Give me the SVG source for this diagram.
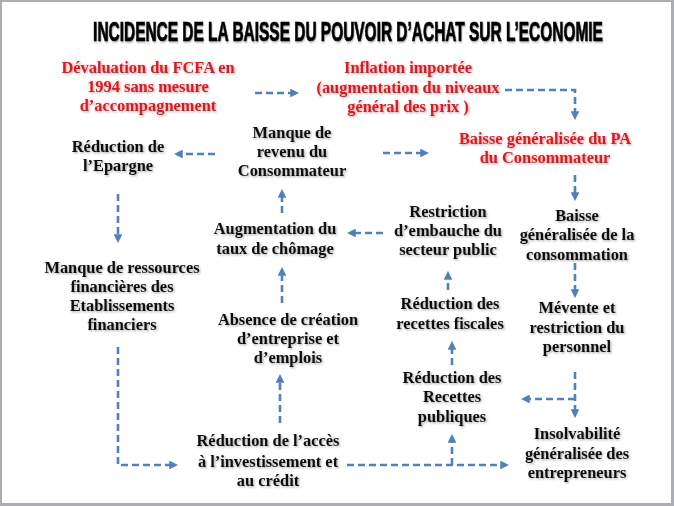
<svg xmlns="http://www.w3.org/2000/svg" width="674" height="506" viewBox="0 0 674 506">
<defs>
<filter id="sh" x="-10%" y="-30%" width="120%" height="160%">
<feDropShadow dx="1.2" dy="1.2" stdDeviation="0.9" flood-color="#000" flood-opacity="0.35"/>
</filter>
<marker id="ah" viewBox="0 0 10 10" refX="2" refY="5" markerWidth="3.4" markerHeight="3.4" orient="auto" markerUnits="strokeWidth">
<path d="M0 0 L10 5 L0 10 Z" fill="#4f81bd"/>
</marker>
<style>
.t{font-family:"Liberation Serif","Times New Roman",serif;font-weight:bold;font-size:16.4px;text-anchor:middle;fill:#111;filter:url(#sh)}
.r{fill:#e3161d}
.c{fill:none;stroke:#4f81bd;stroke-width:2.6;stroke-dasharray:7 4}
.a{marker-end:url(#ah)}
</style>
</defs>
<rect x="0" y="0" width="674" height="506" fill="#abacb4"/>
<rect x="2" y="2" width="669" height="501" fill="#fff"/>
<g id="title" transform="translate(348 41) scale(0.55 1)"><text x="0" y="0" font-family="Liberation Sans,Arial,sans-serif" font-weight="bold" font-size="27" textLength="927" lengthAdjust="spacingAndGlyphs" text-anchor="middle" fill="#000" stroke="#000" stroke-width="0.7" filter="url(#sh)">INCIDENCE  DE LA BAISSE DU POUVOIR D’ACHAT SUR L’ECONOMIE</text></g>

<g id="connectors">
<path class="c a" d="M255 93 H292"/>
<path class="c a" d="M505 90 H575 V113"/>
<path class="c a" d="M383 153 H422"/>
<path class="c a" d="M215 154 H181"/>
<path class="c a" d="M575 175 V194"/>
<path class="c a" d="M118 194 V236"/>
<path class="c a" d="M282 213 V196"/>
<path class="c a" d="M282 303 V274"/>
<path class="c a" d="M280 423 V381"/>
<path class="c a" d="M118 347 V465 H171"/>
<path class="c a" d="M347 465 H502"/>
<path class="c a" d="M452 465 V441"/>
<path class="c a" d="M383 233 H354"/>
<path class="c a" d="M448 290 V278"/>
<path class="c a" d="M452 365 V348"/>
<path class="c a" d="M575 263 V291"/>
<path class="c a" d="M575 372 V411"/>
<path class="c a" d="M575 399 H528"/>
</g>

<g id="n-devaluation"><text class="t r" x="148"><tspan x="148" y="73">Dévaluation du FCFA  en</tspan><tspan x="148" y="92">1994 sans mesure</tspan><tspan x="148" y="111">d’accompagnement</tspan></text></g>
<g id="n-inflation"><text class="t r" x="408"><tspan x="408" y="73">Inflation importée</tspan><tspan x="408" y="93">(augmentation du niveaux</tspan><tspan x="408" y="112">général des prix )</tspan></text></g>
<g id="n-baisse-pa"><text class="t r" x="545"><tspan x="545" y="144">Baisse généralisée du PA</tspan><tspan x="545" y="163">du Consommateur</tspan></text></g>
<g id="n-epargne"><text class="t" x="118"><tspan x="118" y="152">Réduction de</tspan><tspan x="118" y="171">l’Epargne</tspan></text></g>
<g id="n-revenu"><text class="t" x="292"><tspan x="292" y="138">Manque de</tspan><tspan x="292" y="157">revenu du</tspan><tspan x="292" y="176">Consommateur</tspan></text></g>
<g id="n-ressources"><text class="t" x="122"><tspan x="122" y="273">Manque de ressources</tspan><tspan x="122" y="292">financières des</tspan><tspan x="122" y="311">Etablissements</tspan><tspan x="122" y="330">financiers</tspan></text></g>
<g id="n-chomage"><text class="t" x="275"><tspan x="275" y="234">Augmentation du</tspan><tspan x="275" y="254">taux de chômage</tspan></text></g>
<g id="n-restriction"><text class="t" x="448"><tspan x="448" y="217">Restriction</tspan><tspan x="448" y="236">d’embauche  du</tspan><tspan x="448" y="255">secteur public</tspan></text></g>
<g id="n-consommation"><text class="t" x="577"><tspan x="577" y="221">Baisse</tspan><tspan x="577" y="240">généralisée de la</tspan><tspan x="577" y="260">consommation</tspan></text></g>
<g id="n-fiscales"><text class="t" x="450"><tspan x="450" y="309">Réduction  des</tspan><tspan x="450" y="329">recettes fiscales</tspan></text></g>
<g id="n-mevente"><text class="t" x="577"><tspan x="577" y="313">Mévente et</tspan><tspan x="577" y="333">restriction du</tspan><tspan x="577" y="352">personnel</tspan></text></g>
<g id="n-absence"><text class="t" x="288"><tspan x="288" y="325">Absence de création</tspan><tspan x="288" y="344">d’entreprise et</tspan><tspan x="288" y="363">d’emplois</tspan></text></g>
<g id="n-recettes"><text class="t" x="452"><tspan x="452" y="383">Réduction des</tspan><tspan x="452" y="402">Recettes</tspan><tspan x="452" y="422">publiques</tspan></text></g>
<g id="n-insolvabilite"><text class="t" x="577"><tspan x="577" y="439">Insolvabilité</tspan><tspan x="577" y="459">généralisée des</tspan><tspan x="577" y="478">entrepreneurs</tspan></text></g>
<g id="n-acces"><text class="t" x="268"><tspan x="268" y="446">Réduction de l’accès</tspan><tspan x="268" y="467">à l’investissement et</tspan><tspan x="268" y="486">au crédit</tspan></text></g>
</svg>
